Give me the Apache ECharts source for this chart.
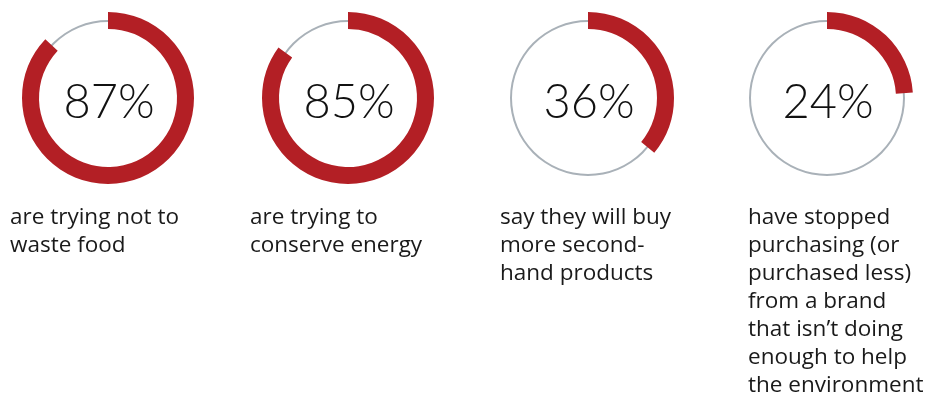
<!DOCTYPE html>
<html>
<head>
<meta charset="utf-8">
<script src="https://cdn.jsdelivr.net/npm/echarts@6/dist/echarts.min.js"></script>
<style>
  html, body { margin: 0; padding: 0; background: #fff; }
  #chart { width: 941px; height: 400px; }
</style>
</head>
<body>
<div id="chart"></div>
<script>
// share of respondents (%)
const percents = [87, 85, 36, 24]
const captions = [
  'are trying not to\nwaste food',
  'are trying to\nconserve energy',
  'say they will buy\nmore second-\nhand products',
  'have stopped\npurchasing (or\npurchased less)\nfrom a brand\nthat isn\u2019t doing\nenough to help\nthe environment',
]

const RED = '#b31f25'
const GREY = '#a9b1b8'
const centersX = [108, 348, 588, 827]
const centerY = 98
const captionX = [10, 250, 500, 748]

const chart = echarts.init(document.getElementById('chart'))

const series = []
percents.forEach((v, i) => {
  // thin grey track
  series.push({
    type: 'pie',
    silent: true,
    center: [centersX[i], centerY],
    radius: [76, 78],
    label: { show: false },
    data: [{ value: 100, itemStyle: { color: GREY } }],
  })
  // red progress arc, clockwise from 12 o'clock
  series.push({
    type: 'pie',
    silent: true,
    center: [centersX[i], centerY],
    radius: [69, 86],
    startAngle: 90,
    clockwise: true,
    label: { show: false },
    data: [
      { value: v, itemStyle: { color: RED } },
      { value: 100 - v, itemStyle: { color: 'transparent' } },
    ],
  })
})

const titles = []
percents.forEach((v, i) => {
  titles.push({
    text: v + '%',
    left: centersX[i] - 4,
    top: centerY,
    textAlign: 'center',
    textVerticalAlign: 'middle',
    textStyle: { fontFamily: 'Lato', fontWeight: 300, fontSize: 47, color: '#111' },
  })
  titles.push({
    text: captions[i],
    left: captionX[i] - 5,
    top: 199,
    textStyle: { fontFamily: 'Open Sans', fontWeight: 'normal', fontSize: 22.5, lineHeight: 28, color: '#1a1a1a' },
  })
})

chart.setOption({
  animation: false,
  title: titles,
  series,
})
</script>
</body>
</html>
